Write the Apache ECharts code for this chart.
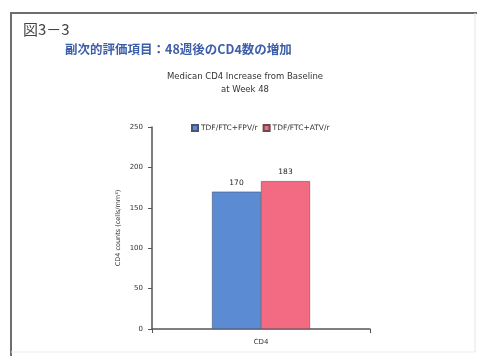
<!DOCTYPE html>
<html>
<head>
<meta charset="utf-8">
<script src="https://cdn.jsdelivr.net/npm/echarts@6/dist/echarts.min.js"></script>
<style>
  html, body { margin: 0; padding: 0; background: #fff; }
  #chart { width: 477px; height: 356px; }
</style>
</head>
<body>
<div id="chart"></div>
<script>
// Median CD4 increase from baseline at week 48, by regimen
const categories = ['CD4'];
const seriesNames = ['TDF/FTC+FPV/r', 'TDF/FTC+ATV/r'];
const fpvValues = [170];
const atvValues = [183];
const yTicks = { min: 0, max: 250, interval: 50 };

const chart = echarts.init(document.getElementById('chart'));

const latin = 'DejaVu Sans, Liberation Sans, Arial, sans-serif';

const barLabel = {
  show: true,
  position: 'top',
  distance: 5,
  fontSize: 7.5,
  color: '#222',
  fontFamily: latin
};

chart.setOption({
  backgroundColor: '#fff',
  animation: false,
  title: [
    {
      text: '図3－3',
      left: 18, top: 17,
      textStyle: { fontSize: 15, fontWeight: 'normal', color: '#444', fontFamily: 'Noto Sans CJK JP' }
    },
    {
      text: '副次的評価項目：48週後のCD4数の増加',
      left: 60, top: 38,
      textStyle: { fontSize: 12.5, fontWeight: 'bold', color: '#3d5ea8', fontFamily: 'Noto Sans CJK JP' }
    },
    {
      text: 'Medican CD4 Increase from Baseline\nat Week 48',
      left: 240, top: 65, textAlign: 'center',
      textStyle: { fontSize: 8.5, fontWeight: 'normal', color: '#333', lineHeight: 13, fontFamily: latin }
    }
  ],
  legend: {
    data: seriesNames,
    left: 186, top: 119,
    itemWidth: 6, itemHeight: 6, itemGap: 5,
    icon: 'rect',
    textStyle: { fontSize: 7.5, color: '#333', padding: [0, 0, 0, -2], fontFamily: latin }
  },
  grid: { left: 152, right: 107, top: 127, bottom: 27 },
  xAxis: {
    type: 'category',
    data: categories,
    axisLine: { lineStyle: { color: '#555', width: 1.5 } },
    axisTick: { show: true, length: 4, lineStyle: { color: '#555' } },
    axisLabel: { fontSize: 7, color: '#333', margin: 10, fontFamily: latin }
  },
  yAxis: {
    type: 'value',
    min: yTicks.min, max: yTicks.max, interval: yTicks.interval,
    name: 'CD4 counts (cells/mm³)',
    nameLocation: 'middle',
    nameGap: 30,
    nameTextStyle: { fontSize: 6.5, color: '#333', fontFamily: latin },
    axisLine: { show: true, lineStyle: { color: '#555', width: 1.5 } },
    axisTick: { show: true, length: 4, lineStyle: { color: '#555' } },
    axisLabel: { fontSize: 7, color: '#333', margin: 9, fontFamily: latin },
    splitLine: { show: false }
  },
  series: [
    {
      name: seriesNames[0], type: 'bar', data: fpvValues,
      barWidth: 49, barGap: '0%',
      itemStyle: { color: '#5b8bd3', borderColor: '#4a5670', borderWidth: 0.6 },
      label: barLabel
    },
    {
      name: seriesNames[1], type: 'bar', data: atvValues,
      barWidth: 49,
      itemStyle: { color: '#f26b82', borderColor: '#6a4a50', borderWidth: 0.6 },
      label: barLabel
    }
  ],
  graphic: [
    // slide frame
    { type: 'line', shape: { x1: 10, y1: 13, x2: 477, y2: 13 }, style: { stroke: '#6e6e6e', lineWidth: 2 } },
    { type: 'line', shape: { x1: 11, y1: 13, x2: 11, y2: 356 }, style: { stroke: '#6e6e6e', lineWidth: 2 } },
    { type: 'line', shape: { x1: 475, y1: 13, x2: 475, y2: 352 }, style: { stroke: '#e4e4e4', lineWidth: 1 } },
    { type: 'line', shape: { x1: 11, y1: 352, x2: 475, y2: 352 }, style: { stroke: '#ececec', lineWidth: 1 } }
  ]
});
</script>
</body>
</html>
